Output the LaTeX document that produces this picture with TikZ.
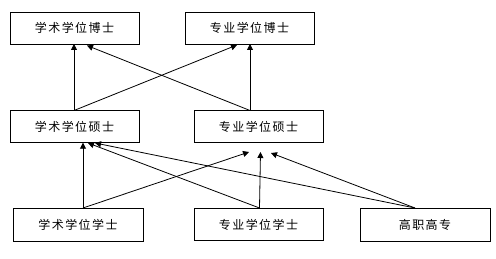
\documentclass[tikz,border=0pt]{standalone}
\usepackage{fontspec}
\newfontfamily\cjk[LetterSpace=12]{Noto Sans CJK SC}
\usetikzlibrary{arrows.meta}
\begin{document}
\begin{tikzpicture}[x=1pt,y=-1pt,
  box/.style={draw,line width=0.9pt,minimum width=129pt,minimum height=32pt,inner sep=0pt,font=\cjk\fontsize{12}{14}\selectfont},
  arr/.style={line width=0.8pt,-{Triangle[length=6pt,width=6pt]}}]
\useasboundingbox (0,0) rectangle (496,259);
\node[box] (d1) at (74.5,28) {学术学位博士};
\node[box] (d2) at (249.5,28) {专业学位博士};
\node[box] (m1) at (74.5,126.5) {学术学位硕士};
\node[box] (m2) at (258.5,126.5) {专业学位硕士};
\node[box,minimum width=130pt,minimum height=33pt] (b1) at (78,224.5) {学术学位学士};
\node[box] (b2) at (258.5,224.5) {专业学位学士};
\node[box,minimum width=130pt,minimum height=33pt] (b3) at (425,224.5) {高职高专};
% anchor points
\coordinate (m1t) at (74,110.5);
\coordinate (m2t) at (250,110.5);
\coordinate (b1t) at (83,208);
\coordinate (b2t) at (259.5,208);
\coordinate (b3t) at (415,208);
\coordinate (d1a) at (74,44);
\coordinate (d1b) at (87,45.5);
\coordinate (d2a) at (237,45);
\coordinate (d2b) at (250,44);
\coordinate (m1a) at (83,142.7);
\coordinate (m1b) at (88,143);
\coordinate (m1c) at (95,143);
\coordinate (m2a) at (249,152);
\coordinate (m2b) at (260.5,152);
\coordinate (m2c) at (271,153);
\draw[arr] (m1t) -- (d1a);
\draw[arr] (m1t) -- (d2a);
\draw[arr] (m2t) -- (d2b);
\draw[arr] (m2t) -- (d1b);
\draw[arr] (b1t) -- (m1a);
\draw[arr] (b1t) -- (m2a);
\draw[arr] (b2t) -- (m2b);
\draw[arr] (b2t) -- (m1b);
\draw[arr] (b3t) -- (m1c);
\draw[arr] (b3t) -- (m2c);
\end{tikzpicture}
\end{document}
